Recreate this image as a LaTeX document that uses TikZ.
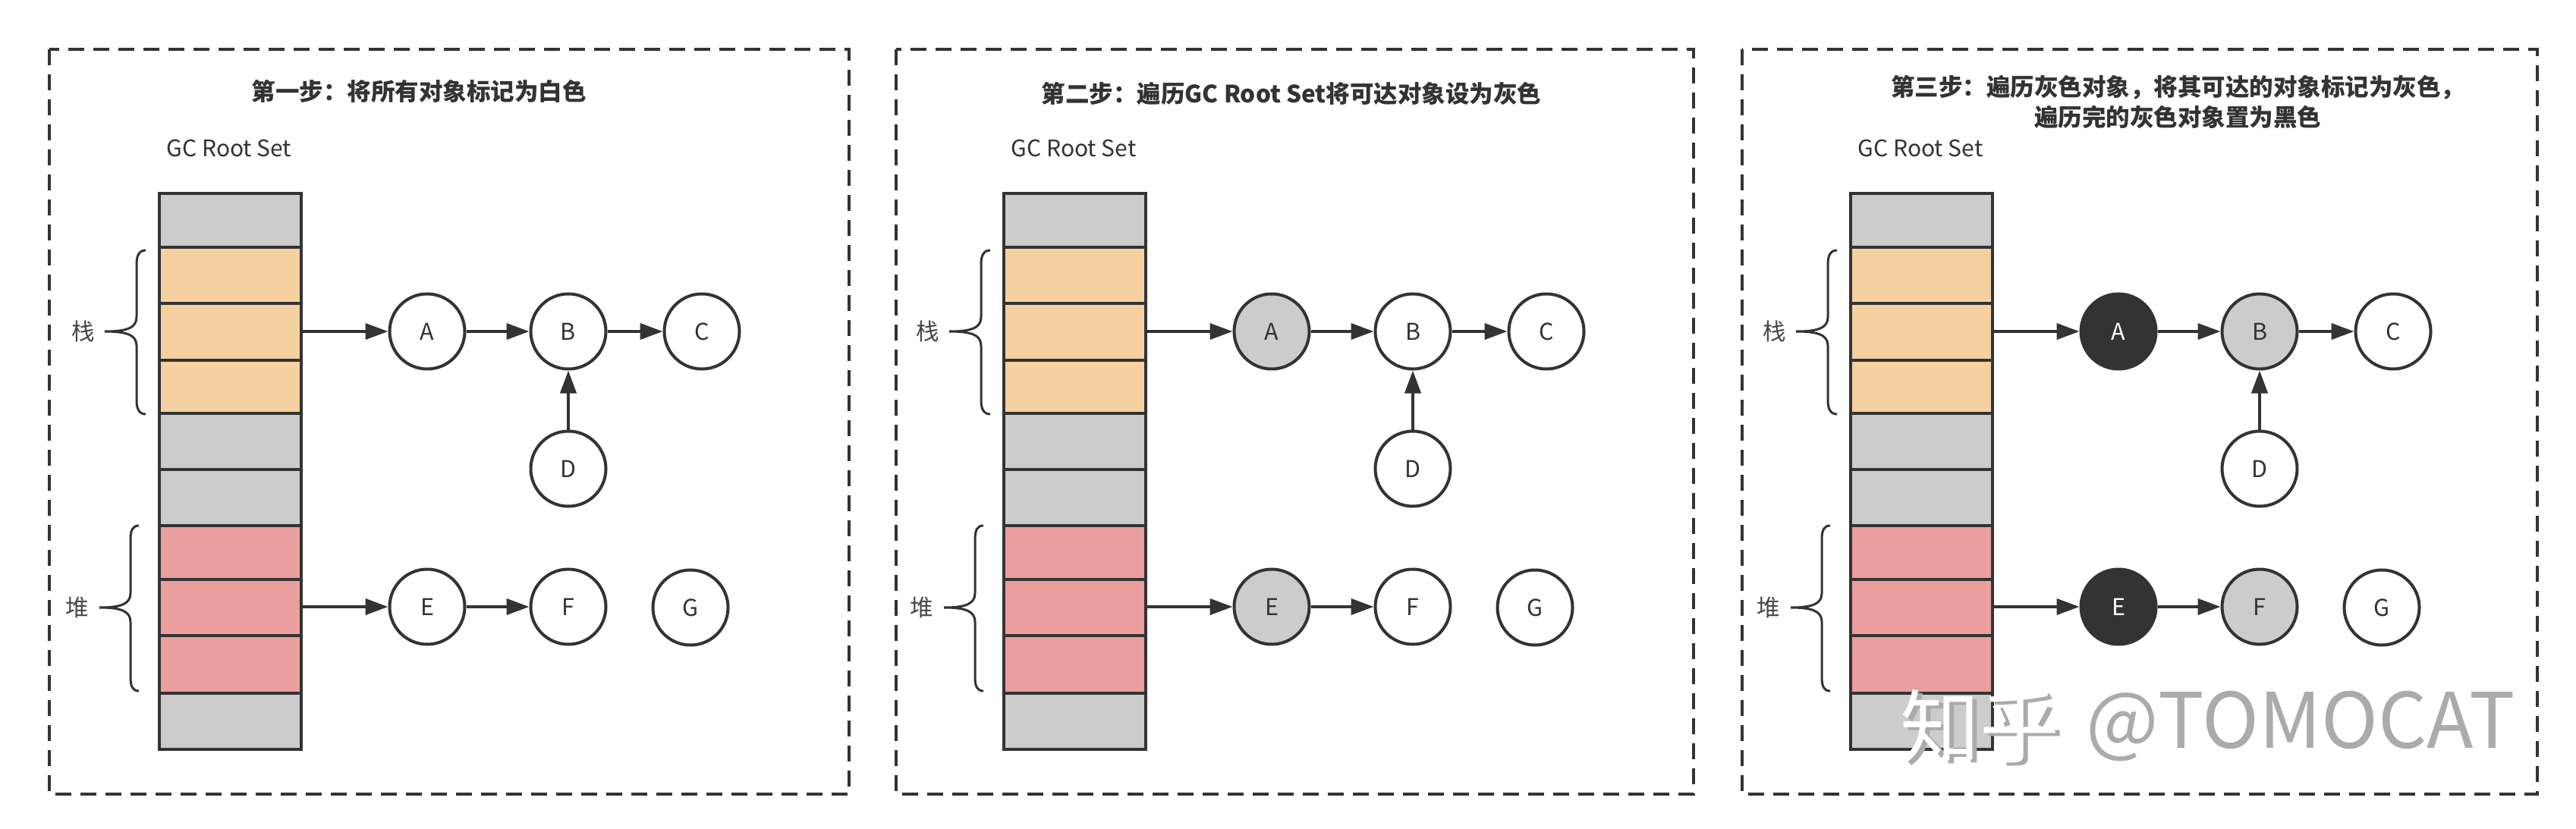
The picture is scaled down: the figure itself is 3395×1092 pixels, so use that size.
\documentclass[tikz,border=0pt]{standalone}
\usepackage{fontspec}
\setmainfont{Noto Sans CJK SC}
\usetikzlibrary{arrows.meta}
\definecolor{ink}{HTML}{333333}
\definecolor{cgray}{HTML}{CCCCCC}
\definecolor{corange}{HTML}{F5D0A0}
\definecolor{cred}{HTML}{EA9E9D}
\definecolor{wmgray}{HTML}{ABABAB}
\tikzset{
  cell/.style={draw=ink, line width=0.8pt},
  column/.style={rectangle, minimum width=37.4pt, minimum height=146.6pt, inner sep=0pt, outer sep=0pt},
  obj/.style={circle, draw=ink, line width=0.8pt, minimum size=19.8pt, inner sep=0pt, font=\fontsize{6.1}{7}\selectfont, text=ink, fill=white},
  whiteobj/.style={obj},
  grayobj/.style={obj, fill=cgray},
  blackobj/.style={obj, fill=ink, text=white},
  ref/.style={draw=ink, line width=0.8pt, -{Triangle[length=6pt,width=4.2pt]}},
  panelbox/.style={draw=ink, line width=0.9pt, dash pattern=on 4.2pt off 2.4pt},
  titletext/.style={font=\bfseries\fontsize{6.3}{8}\selectfont, text=ink, align=center, inner sep=0pt},
  rootlabel/.style={font=\fontsize{6.0}{7}\selectfont, text=ink, inner sep=0pt},
  arealabel/.style={font=\fontsize{6.1}{7}\selectfont, text=ink!90, inner sep=0pt},
  bracepath/.style={draw=ink, line width=0.6pt},
  wmark/.style={inner sep=0pt, anchor=west},
}
\newcommand\gcpanel[6]{%
\begin{scope}[xshift=#2*0.2pt]
  \node[rootlabel] (#1root) at (302,196) {GC Root Set};
  \node[column] (#1col) at (303.5,621.5) {};
  \foreach \ya/\yb/\cc in {255/326/cgray,326/400/corange,400/475/corange,475/545/corange,545/619/cgray,619/693/cgray,693/764/cred,764/838/cred,838/914/cred,914/988/cgray}
    {\draw[cell, fill=\cc] (210,\ya) rectangle (397,\yb);}
  \draw[bracepath] (192,330) .. controls (184,330) and (180,336) .. (180,348) -- (180,418)
     .. controls (180,432) and (168,437) .. (138,437)
     .. controls (168,437) and (180,442) .. (180,456) -- (180,528)
     .. controls (180,540) and (184,546) .. (192,546);
  \draw[bracepath] (183,693) .. controls (175,693) and (172,699) .. (172,711) -- (172,782)
     .. controls (172,796) and (160,801) .. (131,801)
     .. controls (160,801) and (172,806) .. (172,820) -- (172,893)
     .. controls (172,905) and (175,911) .. (183,911);
  \node[arealabel] (#1stk) at (110,437) {栈};
  \node[arealabel] (#1heap) at (102,801) {堆};
  \node[#3] (#1A) at (563,437) {A};
  \node[#4] (#1B) at (749,437) {B};
  \node[whiteobj] (#1C) at (925,437) {C};
  \node[whiteobj] (#1D) at (749,618) {D};
  \node[#5] (#1E) at (563,800) {E};
  \node[#6] (#1F) at (749,800) {F};
  \node[whiteobj] (#1G) at (910,801) {G};
  \draw[ref] (#1col.east |- #1A) -- (#1A);
  \draw[ref] (#1A) -- (#1B);
  \draw[ref] (#1B) -- (#1C);
  \draw[ref] (#1D) -- (#1B);
  \draw[ref] (#1col.east |- #1E) -- (#1E);
  \draw[ref] (#1E) -- (#1F);
\end{scope}}
\begin{document}
\begin{tikzpicture}[x=0.2pt, y=-0.2pt]
  \useasboundingbox (0,0) rectangle (3395,1092);
  \fill[white] (0,0) rectangle (3395,1092);
  % panel frames
  \draw[panelbox] (65,65) rectangle (1119,1047);
  \draw[panelbox] (1181,65) rectangle (2232,1047);
  \draw[panelbox] (2296,65) rectangle (3344,1047);
  % titles
  \node[titletext] (t1) at (552,120) {第一步：将所有对象标记为白色};
  \node[titletext] (t2) at (1702,124) {第二步：遍历GC Root Set将可达对象设为灰色};
  \node[titletext] (t3) at (2870,135) {第三步：遍历灰色对象，将其可达的对象标记为灰色，\\遍历完的灰色对象置为黑色};
  % panels
  \gcpanel{p}{0}{whiteobj}{whiteobj}{whiteobj}{whiteobj}
  \gcpanel{q}{1113}{grayobj}{whiteobj}{grayobj}{whiteobj}
  \gcpanel{r}{2229}{blackobj}{grayobj}{blackobj}{grayobj}
  % watermark
  \node[wmark, text=wmgray, font=\fontsize{21}{22}\selectfont] (wm1s) at (2509,962) {知乎};
  \node[wmark, text=white, font=\fontsize{21}{22}\selectfont] (wm1) at (2503,958) {知乎};
  \node[wmark, text=white, font=\fontsize{20.2}{22}\selectfont] (wm2s) at (2743,954) {@TOMOCAT};
  \node[wmark, text=wmgray, font=\fontsize{20.2}{22}\selectfont] (wm2) at (2748,958) {@TOMOCAT};
\end{tikzpicture}
\end{document}
